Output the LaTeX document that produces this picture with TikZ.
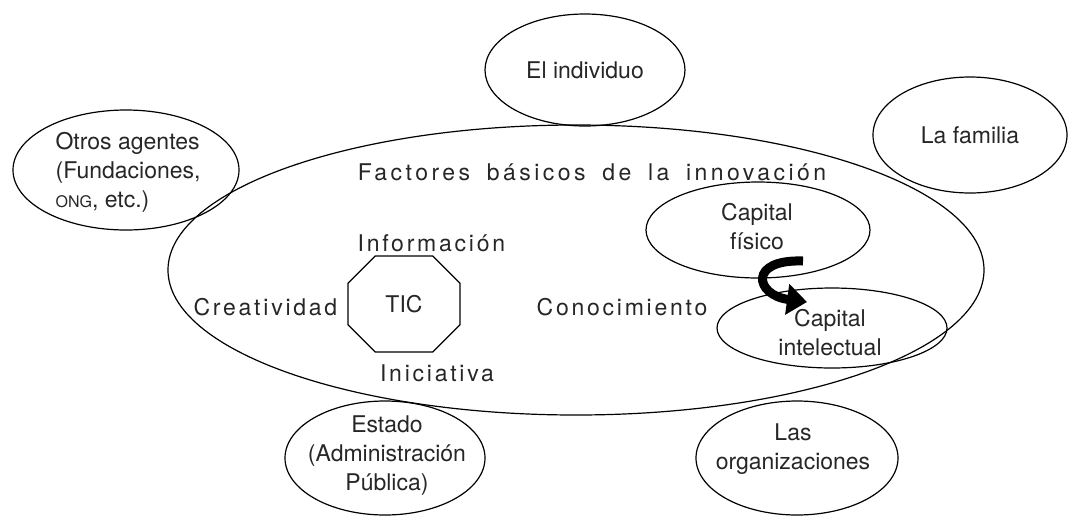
\documentclass[tikz,border=0pt]{standalone}
\usepackage{fontspec}
\setmainfont{TeX Gyre Heros}
\newfontfamily\spacedfont[LetterSpace=12]{TeX Gyre Heros}
\newfontfamily\titlefont[LetterSpace=15,WordSpace=1.7]{TeX Gyre Heros}
\usetikzlibrary{shapes.geometric,shapes.misc,arrows.meta}

\begin{document}
\begin{tikzpicture}[x=.5pt,y=-.5pt,line width=.6pt,
    font=\fontsize{11.5}{14.5}\selectfont,text=black!85]

      \useasboundingbox (0,0) rectangle (1071,515);

      \begin{scope}[every node/.style={ellipse,draw,inner sep=0pt}]
        \node (factores)  at (576,270) [minimum width=408pt,minimum height=145pt] {};
        \node (individuo) at (585,70)  [minimum width=100pt,minimum height=56pt]  {};
        \node (familia)   at (970,135) [minimum width=97pt,minimum height=58pt]   {};
        \node (otros)     at (126,170) [minimum width=113pt,minimum height=60pt]  {};
        \node (estado)    at (385,458) [minimum width=100pt,minimum height=57pt]  {};
        \node (organiz)   at (797,458) [minimum width=101pt,minimum height=57pt]  {};
        \node (fisico)    at (758,230) [minimum width=112pt,minimum height=48pt]  {};
        \node (intelect)  at (832,328) [minimum width=115pt,minimum height=40pt]  {};
      \end{scope}

      \node (tic) at (404,304) [chamfered rectangle,draw,
        chamfered rectangle xsep=13.5pt,chamfered rectangle ysep=13.5pt,
        minimum width=56pt,minimum height=48pt,inner sep=0pt] {TIC};

      \begin{scope}[every node/.style={align=center,inner sep=0pt}]
        \node (t1) at (individuo) {El individuo};
        \node (t2) at (familia)   {La familia};
        \node (t3) at (55,172) [anchor=west,align=left] {Otros agentes\\(Fundaciones,\\{\fontsize{8}{10}\selectfont ONG}, etc.)};
        \node (t4) at (387,456) {Estado\\(Administración\\Pública)};
        \node (t5) at (793,449) {Las\\organizaciones};
        \node (t6) at (757,227) {Capital\\físico};
        \node (t7) at (830,333) {Capital\\intelectual};
      \end{scope}

      \begin{scope}[every node/.style={inner sep=0pt,font=\fontsize{11.5}{14.5}\spacedfont}]
        \node (titulo)   at (592,172) [font=\fontsize{11.5}{14.5}\titlefont] {Factores básicos de la innovación};
        \node (info)     at (357,243) [anchor=west] {Información};
        \node (creat)    at (193,307) [anchor=west] {Creatividad};
        \node (conoc)    at (708,307) [anchor=east] {Conocimiento};
        \node (inic)     at (437,373)              {Iniciativa};
      \end{scope}

      \coordinate (cola)  at (803,261);
      \coordinate (punta) at (807,302);
      \draw[line width=4.5pt,-{Triangle[length=10pt,width=15pt]}]
        (cola) .. controls (748,259) and (755,295) .. (punta);

    \end{tikzpicture}
\end{document}
